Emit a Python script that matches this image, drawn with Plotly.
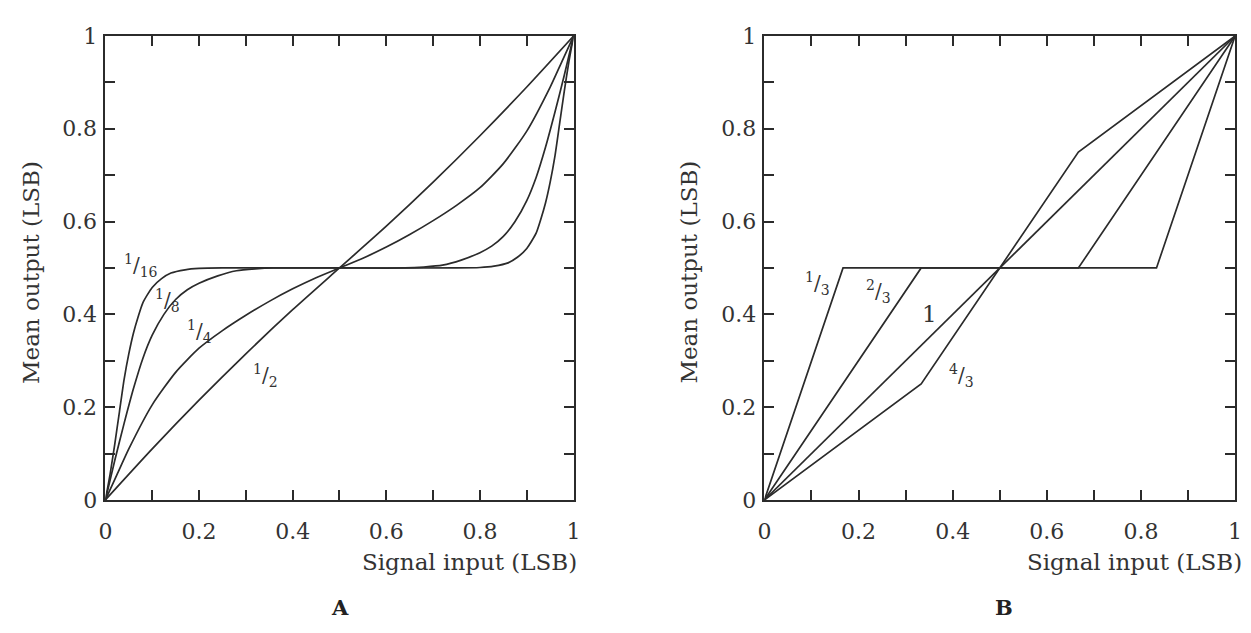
import plotly.graph_objects as go

W, H = 1251, 633
FONT = "DejaVu Serif"
INK = "#2b2b2b"

# ---------------- Panel A data (Gaussian dither) ----------------
a_names = ["1/16", "1/8", "1/4", "1/2"]

a16_x = [0, 0.01, 0.02, 0.03, 0.04, 0.05, 0.06, 0.07, 0.08, 0.10, 0.12, 0.14, 0.17, 0.20, 0.25,
         0.5, 0.75, 0.80, 0.83, 0.86, 0.88, 0.90, 0.92, 0.93, 0.94, 0.95, 0.96, 0.97, 0.98, 0.99, 1.0]
a16_y = [0, 0.055, 0.12, 0.19, 0.26, 0.315, 0.36, 0.395, 0.425, 0.458, 0.477, 0.489, 0.496, 0.499, 0.5,
         0.5, 0.5, 0.501, 0.504, 0.511, 0.523, 0.542, 0.575, 0.605, 0.64, 0.685, 0.74, 0.81, 0.88, 0.945, 1.0]

a8_x = [0, 0.02, 0.04, 0.06, 0.08, 0.10, 0.125, 0.15, 0.175, 0.20, 0.24, 0.28, 0.32, 0.36,
        0.5, 0.64, 0.68, 0.72, 0.76, 0.80, 0.825, 0.85, 0.875, 0.90, 0.92, 0.94, 0.96, 0.98, 1.0]
a8_y = [0, 0.085, 0.165, 0.24, 0.305, 0.355, 0.40, 0.432, 0.453, 0.467, 0.483, 0.494, 0.498, 0.5,
        0.5, 0.5, 0.502, 0.506, 0.517, 0.533, 0.547, 0.568, 0.60, 0.645, 0.695, 0.76, 0.835, 0.915, 1.0]

a4_x = [0, 0.025, 0.05, 0.1, 0.15, 0.2, 0.25, 0.3, 0.35, 0.4, 0.45, 0.5,
        0.55, 0.6, 0.65, 0.7, 0.75, 0.8, 0.85, 0.9, 0.95, 0.975, 1.0]
a4_y = [0, 0.055, 0.11, 0.205, 0.275, 0.327, 0.365, 0.398, 0.428, 0.455, 0.479, 0.5,
        0.521, 0.545, 0.572, 0.602, 0.635, 0.673, 0.725, 0.795, 0.89, 0.945, 1.0]

a2_x = [0, 0.1, 0.2, 0.3, 0.4, 0.5, 0.6, 0.7, 0.8, 0.9, 1.0]
a2_y = [0, 0.11, 0.215, 0.315, 0.41, 0.5, 0.59, 0.685, 0.785, 0.89, 1.0]

# ---------------- Panel B data (uniform dither) ----------------
b_names = ["1/3", "2/3", "1", "4/3"]
b13_x = [0, 0.167, 0.833, 1.0]
b13_y = [0, 0.5, 0.5, 1.0]
b23_x = [0, 0.333, 0.667, 1.0]
b23_y = [0, 0.5, 0.5, 1.0]
b1_x = [0, 1.0]
b1_y = [0, 1.0]
b43_x = [0, 0.333, 0.667, 1.0]
b43_y = [0, 0.25, 0.75, 1.0]

tick_vals = [0, 0.1, 0.2, 0.3, 0.4, 0.5, 0.6, 0.7, 0.8, 0.9, 1.0]
tick_text = ["0", "", "0.2", "", "0.4", "", "0.6", "", "0.8", "", "1"]

fig = go.Figure()

line = dict(color=INK, width=1.7)
for xs, ys, nm in [(a16_x, a16_y, a_names[0]), (a8_x, a8_y, a_names[1]),
                   (a4_x, a4_y, a_names[2]), (a2_x, a2_y, a_names[3])]:
    fig.add_trace(go.Scatter(x=xs, y=ys, mode="lines", name=nm,
                             line=dict(color=INK, width=1.7, shape="spline", smoothing=0.6),
                             xaxis="x", yaxis="y", showlegend=False))
for xs, ys, nm in [(b13_x, b13_y, b_names[0]), (b23_x, b23_y, b_names[1]),
                   (b1_x, b1_y, b_names[2]), (b43_x, b43_y, b_names[3])]:
    fig.add_trace(go.Scatter(x=xs, y=ys, mode="lines", name=nm, line=line,
                             xaxis="x2", yaxis="y2", showlegend=False))


def px(xp):
    return xp / W


def py(yp):
    return 1 - yp / H


ax_common = dict(range=[0, 1], tickmode="array", tickvals=tick_vals, ticktext=tick_text,
                 ticks="inside", ticklen=10, tickwidth=1.6, tickcolor=INK,
                 showline=True, linewidth=1.7, linecolor=INK, mirror="ticks",
                 showgrid=False, zeroline=False,
                 tickfont=dict(family=FONT, size=22, color="#333"))

ydom = [py(508), py(25)]
fig.update_layout(
    width=W, height=H,
    margin=dict(l=0, r=0, t=0, b=0),
    paper_bgcolor="white", plot_bgcolor="white",
    xaxis=dict(domain=[px(99.5), px(573)], anchor="y", ticklabelstandoff=11, **ax_common),
    yaxis=dict(domain=ydom, anchor="x", ticklabelstandoff=2, **ax_common),
    xaxis2=dict(domain=[px(766), px(1242)], anchor="y2", ticklabelstandoff=11, **ax_common),
    yaxis2=dict(domain=ydom, anchor="x2", ticklabelstandoff=2, **ax_common),
)

ann = []
tfont = dict(family=FONT, size=23, color="#333")
# axis titles
for cx in (468, 1140):
    ann.append(dict(text="Signal input (LSB)", x=px(cx), y=py(573), xref="paper", yref="paper",
                    showarrow=False, font=tfont, xanchor="center", yanchor="middle"))
for cx in (25, 690):
    ann.append(dict(text="Mean output (LSB)", x=px(cx), y=py(271), xref="paper", yref="paper",
                    showarrow=False, font=tfont, textangle=-90, xanchor="center", yanchor="middle"))
# panel letters
for cx, t in ((337, "A"), (1008, "B")):
    ann.append(dict(text="<b>%s</b>" % t, x=px(cx), y=py(620), xref="paper", yref="paper",
                    showarrow=False, font=dict(family=FONT, size=21, color="#222"),
                    xanchor="center", yanchor="middle"))

lfont = dict(family=FONT, size=20, color="#333")


def frac(s):
    if "/" in s:
        n, d = s.split("/")
        return "<sup>%s</sup>/<sub>%s</sub>" % (n, d)
    return s


# curve labels panel A
for t, x, y in ((a_names[0], 0.075, 0.505), (a_names[1], 0.132, 0.429),
                (a_names[2], 0.2, 0.362), (a_names[3], 0.343, 0.269)):
    ann.append(dict(text=frac(t), x=x, y=y, xref="x", yref="y", showarrow=False, font=lfont))
# curve labels panel B
for t, x, y in ((b_names[0], 0.113, 0.466), (b_names[1], 0.242, 0.449),
                (b_names[3], 0.418, 0.269)):
    ann.append(dict(text=frac(t), x=x, y=y, xref="x2", yref="y2", showarrow=False, font=lfont))
ann.append(dict(text=b_names[2], x=0.351, y=0.401, xref="x2", yref="y2", showarrow=False,
                font=dict(family=FONT, size=23, color="#333")))

fig.update_layout(annotations=ann)
fig.write_html("out.html")
